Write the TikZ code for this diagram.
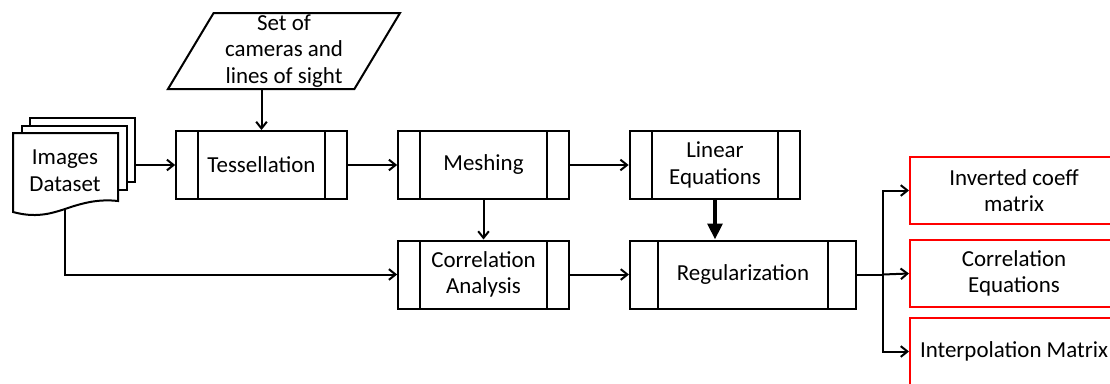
\documentclass[tikz,border=0pt]{standalone}
\usepackage{fontspec}
\setmainfont{Carlito}
\usetikzlibrary{shapes.geometric, arrows.meta, positioning}
\tikzset{process/.style={rectangle, draw=black, line width=1.5pt, minimum width=128pt, minimum height=51pt, align=center, font=\fontsize{17.2}{20}\selectfont,
    path picture={\draw[line width=1.5pt] ([xshift=#1]path picture bounding box.north west) -- ([xshift=#1]path picture bounding box.south west);
                  \draw[line width=1.5pt] ([xshift=-#1]path picture bounding box.north east) -- ([xshift=-#1]path picture bounding box.south east);}},
    process/.default=16.5pt}
\tikzstyle{result} = [rectangle, draw=red, line width=1.5pt, minimum width=156pt, minimum height=50pt, align=center, font=\fontsize{17.2}{20}\selectfont]
\tikzstyle{io} = [trapezium, trapezium left angle=58, trapezium right angle=122, trapezium stretches body, draw=black, line width=1.5pt, minimum width=174pt, minimum height=57pt, inner ysep=0pt, align=center, font=\fontsize{17.2}{20}\selectfont]
\tikzstyle{doc} = [draw=black, line width=1.5pt, fill=white]
\tikzstyle{arrow} = [line width=1.5pt, -{Straight Barb[length=5pt, width=8pt]}]
\tikzstyle{bigarrow} = [line width=3.5pt, -{Triangle[length=12pt, width=11pt]}]

\begin{document}
\begin{tikzpicture}[x=0.75pt, y=-0.75pt]
    \useasboundingbox (0,0) rectangle (1110,383);
    \draw [doc] (30,118) rectangle (135,182);
    \draw [doc] (22,126) rectangle (127,190);
    \draw [doc] (13,133) -- (118,133) -- (118,201) .. controls (100,199) and (85,202) .. (65,209) .. controls (50,214) and (35,218) .. (13,212) -- cycle;
    \node (imgs) [minimum width=78pt, minimum height=57pt, align=center, font=\fontsize{17.2}{20}\selectfont] at (65,171) {Images\\Dataset};
    \coordinate (stack) at (135,165);
    \node (sight) [io] at (284,51) {Set of\\cameras and\\lines of sight};
    \node (tess) [process] at (261.5,165) {Tessellation};
    \node (mesh) [process] at (483.5,165) {Meshing};
    \node (lin) [process] at (715,165) {Linear\\Equations};
    \node (corr) [process] at (483.5,274.5) {Correlation\\Analysis};
    \node (reg) [process=21pt, minimum width=169.5pt] at (743,274.5) {Regularization};
    \node (inv) [result] at (1014,190.5) {Inverted coeff\\matrix};
    \node (corq) [result] at (1014,273.5) {Correlation\\Equations};
    \node (interp) [result] at (1014,351.5) {Interpolation Matrix};
    \coordinate (bus) at (883,274.5);
    \draw [arrow] (stack) -- (tess.west);
    \draw [arrow] (tess.north |- sight.south) -- (tess.north);
    \draw [arrow] (tess) -- (mesh);
    \draw [arrow] (mesh) -- (lin);
    \draw [arrow] (mesh) -- (corr);
    \draw [arrow] (imgs.south) |- (corr.west);
    \draw [arrow] (corr) -- (reg);
    \draw [bigarrow] (lin.south) -- (lin.south |- reg.north);
    \draw [line width=1.5pt] (reg.east) -- (bus);
    \draw [arrow] (bus) |- (inv.west);
    \draw [arrow] (bus) -- (corq.west);
    \draw [arrow] (bus) |- (interp.west);
\end{tikzpicture}
\end{document}
